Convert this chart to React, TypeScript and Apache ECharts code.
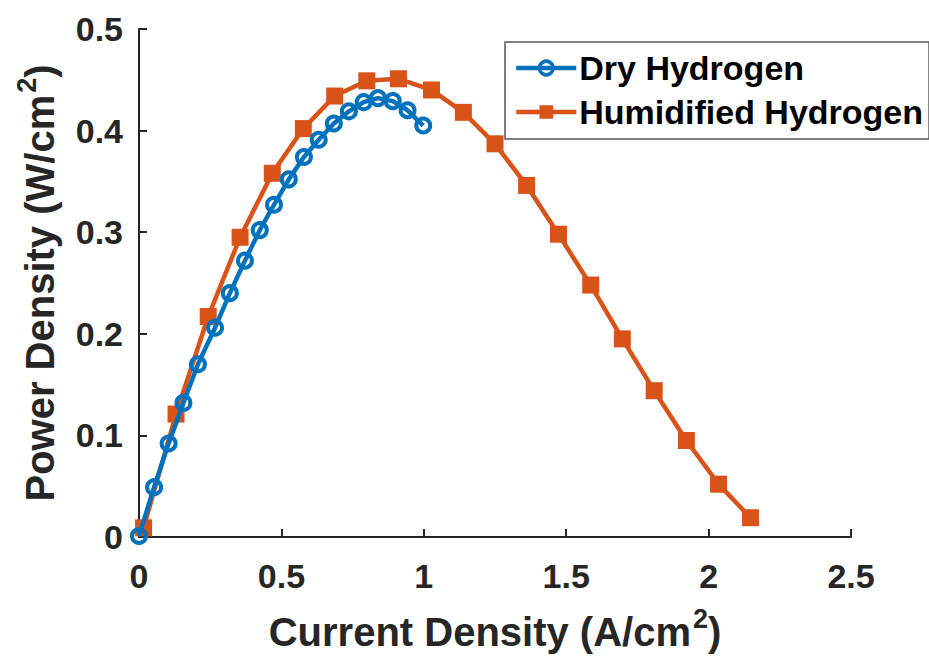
import React, { useEffect, useRef } from "react";
import * as echarts from "echarts";

const dryX = [0, 0.053, 0.104, 0.156, 0.207, 0.267, 0.319, 0.372, 0.424, 0.474, 0.526, 0.579, 0.631, 0.684, 0.737, 0.789, 0.839, 0.891, 0.943, 0.998];
const dryY = [0.001, 0.049, 0.092, 0.132, 0.170, 0.206, 0.240, 0.272, 0.302, 0.327, 0.352, 0.374, 0.391, 0.407, 0.419, 0.428, 0.432, 0.429, 0.420, 0.405];
const humX = [0.016, 0.13, 0.243, 0.355, 0.468, 0.577, 0.687, 0.8, 0.911, 1.027, 1.139, 1.25, 1.361, 1.473, 1.586, 1.697, 1.809, 1.922, 2.035, 2.147];
const humY = [0.009, 0.121, 0.217, 0.295, 0.358, 0.402, 0.434, 0.449, 0.451, 0.440, 0.418, 0.387, 0.346, 0.298, 0.248, 0.195, 0.144, 0.095, 0.052, 0.019];
const seriesNames = ["Dry Hydrogen", "Humidified Hydrogen"];
const xTitle = "Current Density (A/cm";
const yTitle = "Power Density (W/cm";

const BLUE = "#0072BD";
const ORANGE = "#D95319";
const AX = "#262626";
const FONT = "'Liberation Sans', Arial, Helvetica, sans-serif";

export default function App() {
  const ref = useRef<HTMLDivElement>(null);
  useEffect(() => {
    if (!ref.current) return;
    const chart = echarts.init(ref.current, null, { renderer: "svg" });
    const zip = (xs: number[], ys: number[]) => xs.map((x, i) => [x, ys[i]]);
    const titleRich = {
      t: { fontSize: 40, lineHeight: 44, fontWeight: "bold", color: AX, fontFamily: FONT, padding: [10, 0, 0, 0] },
      s: { fontSize: 27, lineHeight: 30, fontWeight: "bold", color: AX, fontFamily: FONT, padding: [0, 0, 16, 2] },
    };
    chart.setOption({
      animation: false,
      backgroundColor: "#fff",
      textStyle: { fontFamily: FONT },
      grid: { left: 139, right: 78, top: 29, bottom: 125, containLabel: false, outerBoundsMode: "none" },
      legend: {
        orient: "vertical",
        left: 505,
        top: 42,
        padding: [9, 6, 10, 9],
        itemGap: 10,
        itemWidth: 60,
        itemHeight: 17,
        backgroundColor: "#fff",
        borderColor: "#555",
        borderWidth: 1.5,
        borderRadius: 0,
        lineStyle: { width: 4.5 },
        textStyle: { fontSize: 34, fontWeight: "bold", color: "#000", fontFamily: FONT, padding: [0, 0, 0, -2] },
        data: [
          { name: seriesNames[0], itemStyle: { color: "rgba(255,255,255,0)", borderColor: BLUE, borderWidth: 3.5 } },
          { name: seriesNames[1] },
        ],
      },
      xAxis: {
        type: "value",
        min: 0,
        max: 2.5,
        interval: 0.5,
        splitLine: { show: false },
        axisLine: { lineStyle: { color: AX, width: 2 } },
        axisTick: { inside: true, length: 8, lineStyle: { color: AX, width: 2 } },
        axisLabel: { fontSize: 34, fontWeight: "bold", color: AX, margin: 22, fontFamily: FONT },
        name: `{t|${xTitle}}{s|2}{t|)}`,
        nameLocation: "middle",
        nameGap: 68,
        nameTextStyle: { rich: titleRich },
      },
      yAxis: {
        type: "value",
        min: 0,
        max: 0.5,
        interval: 0.1,
        splitLine: { show: false },
        axisLine: { lineStyle: { color: AX, width: 2 } },
        axisTick: { inside: true, length: 8, lineStyle: { color: AX, width: 2 } },
        axisLabel: { fontSize: 34, fontWeight: "bold", color: AX, margin: 16, fontFamily: FONT },
        name: `{t|${yTitle}}{s|2}{t|)}`,
        nameLocation: "middle",
        nameGap: 82,
        nameTextStyle: { rich: titleRich },
      },
      series: [
        {
          name: seriesNames[0],
          type: "line",
          data: zip(dryX, dryY),
          symbol: "circle",
          symbolSize: 14,
          color: BLUE,
          lineStyle: { color: BLUE, width: 4.5 },
          itemStyle: { color: "rgba(255,255,255,0)", borderColor: BLUE, borderWidth: 4 },
          z: 3,
        },
        {
          name: seriesNames[1],
          type: "line",
          data: zip(humX, humY),
          symbol: "rect",
          symbolSize: 17,
          color: ORANGE,
          lineStyle: { color: ORANGE, width: 4.5 },
          itemStyle: { color: ORANGE },
          z: 2,
        },
      ],
    });
    return () => chart.dispose();
  }, []);
  return <div ref={ref} style={{ width: 929, height: 662, position: "absolute", left: 0, top: 0 }} />;
}
